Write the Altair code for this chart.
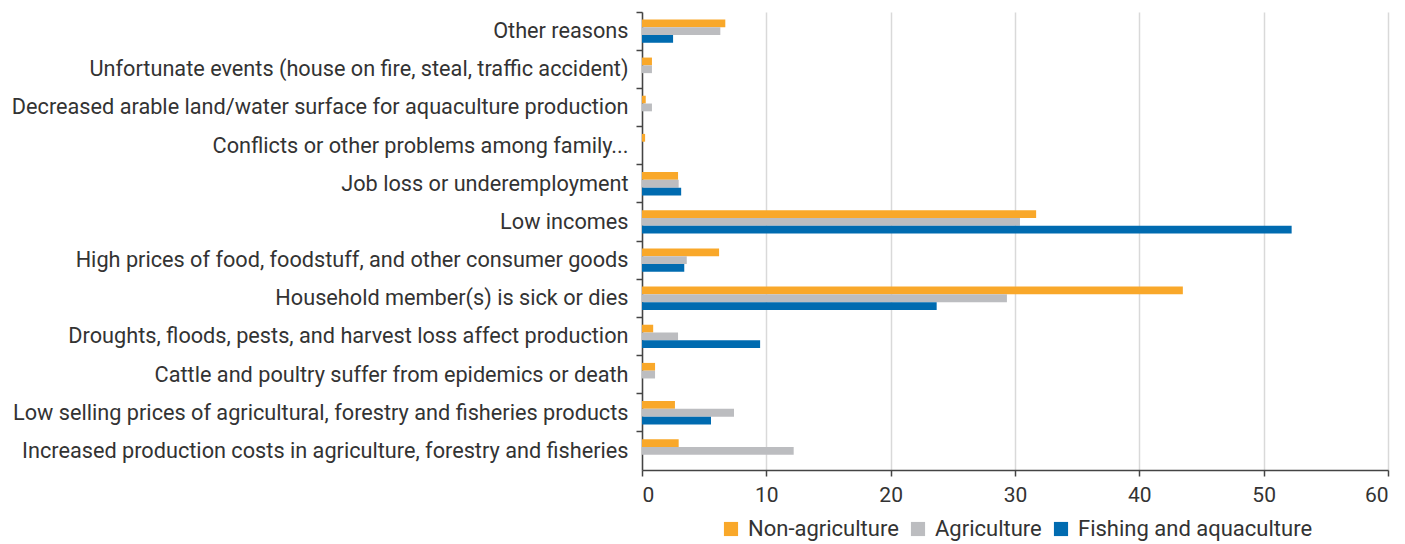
import altair as alt
import pandas as pd

categories = [
    "Other reasons",
    "Unfortunate events (house on fire, steal, traffic accident)",
    "Decreased arable land/water surface for aquaculture production",
    "Conflicts or other problems among family...",
    "Job loss or underemployment",
    "Low incomes",
    "High prices of food, foodstuff, and other consumer goods",
    "Household member(s) is sick or dies",
    "Droughts, floods, pests, and harvest loss affect production",
    "Cattle and poultry suffer from epidemics or death",
    "Low selling prices of agricultural, forestry and fisheries products",
    "Increased production costs in agriculture, forestry and fisheries",
]
series = ["Non-agriculture", "Agriculture", "Fishing and aquaculture"]
non_agriculture = [6.7, 0.8, 0.3, 0.25, 2.9, 31.7, 6.2, 43.5, 0.9, 1.05, 2.65, 2.95]
agriculture = [6.3, 0.8, 0.8, 0.0, 2.95, 30.4, 3.6, 29.35, 2.9, 1.05, 7.4, 12.2]
fishing = [2.5, 0.0, 0.0, 0.0, 3.15, 52.25, 3.4, 23.7, 9.5, 0.0, 5.55, 0.0]
colors = ["#F9A82A", "#BCBDC0", "#006BB0"]

rows = []
for vals, s in zip([non_agriculture, agriculture, fishing], series):
    for c, v in zip(categories, vals):
        rows.append({"category": c, "series": s, "value": v})
df = pd.DataFrame(rows)

FONT = "Roboto"
TXT = "#333333"

chart = alt.Chart(df).mark_bar().encode(
    y=alt.Y("category:N", sort=categories, title=None,
            scale=alt.Scale(paddingInner=0, paddingOuter=0),
            axis=alt.Axis(bandPosition=0, tickSize=6, labelPadding=8,
                          labelFontSize=21.7, labelFont=FONT, labelColor=TXT,
                          domainColor="#444444", tickColor="#444444",
                          domainWidth=1.5, tickWidth=1.5, labelLimit=700,
                          grid=False)),
    x=alt.X("value:Q", title=None,
            scale=alt.Scale(domain=[0, 60], nice=False),
            axis=alt.Axis(values=[0, 10, 20, 30, 40, 50, 60], tickSize=6,
                          labelFontSize=21, labelFont=FONT, labelColor=TXT,
                          labelPadding=8, domainColor="#444444", tickColor="#444444",
                          domainWidth=1.5, tickWidth=1.5,
                          gridColor="#D9D9D9", gridWidth=1.5)),
    yOffset=alt.YOffset("series:N", sort=series,
                        scale=alt.Scale(paddingInner=0, paddingOuter=0.95)),
    color=alt.Color("series:N", sort=series,
                    scale=alt.Scale(domain=series, range=colors),
                    legend=alt.Legend(title=None, orient="none", direction="horizontal",
                                      legendX=78, legendY=506,
                                      symbolType="square", symbolSize=200,
                                      symbolStrokeWidth=0,
                                      labelFontSize=22, labelFont=FONT, labelColor=TXT,
                                      labelOffset=6, columnPadding=8, labelLimit=400)),
).properties(
    width=746, height=458,
    autosize=alt.AutoSizeParams(type="none"),
    padding={"left": 642, "top": 12, "right": 17, "bottom": 74},
).configure_view(stroke=None)

chart.save("out.html", embed_options={"renderer": "svg", "actions": False})
